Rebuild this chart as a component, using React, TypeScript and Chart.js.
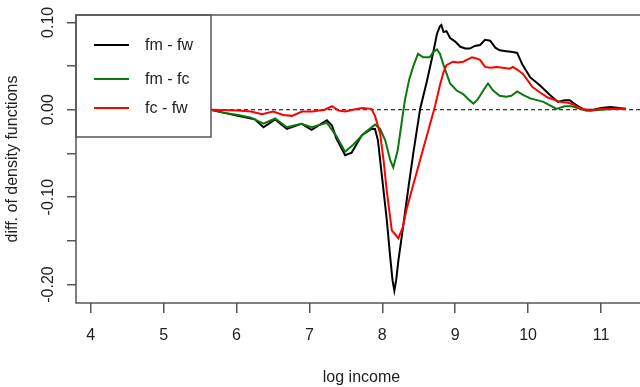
import React, { useEffect, useRef } from "react";
import { Chart, registerables } from "chart.js";

Chart.register(...registerables);

const xTicks = [4, 5, 6, 7, 8, 9, 10, 11];
const yTicks = [-0.2, -0.15, -0.1, -0.05, 0, 0.05, 0.1];
const yTickLabelValues = [-0.2, -0.1, 0, 0.1];
const yTickLabelTexts = ["-0.20", "-0.10", "0.00", "0.10"];

const seriesNames = ["fm - fw", "fm - fc", "fc - fw"];
const seriesColors = ["#000000", "#0b780b", "#ff0000"];

const xFmFw = [4.10, 5.00, 5.65, 5.80, 6.02, 6.25, 6.37, 6.53, 6.69, 6.89, 7.03, 7.24, 7.31, 7.37, 7.49, 7.58, 7.72, 7.85, 7.90, 7.94, 8.00, 8.06, 8.11, 8.14, 8.165, 8.19, 8.22, 8.29, 8.36, 8.43, 8.52, 8.61, 8.70, 8.75, 8.79, 8.81, 8.84, 8.88, 8.93, 9.00, 9.07, 9.14, 9.20, 9.27, 9.34, 9.41, 9.48, 9.55, 9.61, 9.70, 9.79, 9.85, 9.92, 10.03, 10.16, 10.30, 10.41, 10.50, 10.57, 10.65, 10.77, 10.90, 11.00, 11.13, 11.25, 11.34];
const yFmFw = [0, 0, 0, -0.003, -0.007, -0.011, -0.020, -0.011, -0.022, -0.016, -0.023, -0.012, -0.018, -0.033, -0.052, -0.049, -0.029, -0.022, -0.022, -0.035, -0.080, -0.125, -0.170, -0.195, -0.207, -0.195, -0.173, -0.131, -0.088, -0.047, 0.0015, 0.032, 0.066, 0.087, 0.0955, 0.097, 0.089, 0.090, 0.082, 0.078, 0.072, 0.070, 0.070, 0.073, 0.074, 0.080, 0.079, 0.071, 0.068, 0.067, 0.066, 0.065, 0.052, 0.037, 0.028, 0.017, 0.009, 0.011, 0.011, 0.006, 0.000, 0.000, 0.002, 0.003, 0.002, 0.001];

const xFmFc = [4.10, 5.00, 5.65, 5.80, 6.02, 6.20, 6.37, 6.53, 6.69, 6.89, 7.03, 7.24, 7.37, 7.49, 7.60, 7.75, 7.90, 7.97, 8.04, 8.11, 8.15, 8.21, 8.27, 8.31, 8.37, 8.43, 8.49, 8.56, 8.65, 8.70, 8.75, 8.79, 8.84, 8.93, 9.02, 9.11, 9.18, 9.25, 9.30, 9.34, 9.40, 9.45, 9.52, 9.61, 9.70, 9.77, 9.85, 9.93, 10.03, 10.21, 10.39, 10.50, 10.60, 10.80, 11.00, 11.20, 11.34];
const yFmFc = [0, 0, 0, -0.003, -0.006, -0.009, -0.016, -0.010, -0.020, -0.016, -0.020, -0.015, -0.030, -0.048, -0.040, -0.027, -0.017, -0.022, -0.035, -0.058, -0.066, -0.047, -0.012, 0.011, 0.035, 0.051, 0.064, 0.060, 0.060, 0.066, 0.069, 0.064, 0.051, 0.030, 0.022, 0.018, 0.012, 0.007, 0.011, 0.016, 0.024, 0.030, 0.022, 0.016, 0.015, 0.016, 0.021, 0.017, 0.013, 0.009, 0.001, 0.004, 0.004, -0.001, 0.000, 0.001, 0.001];

const xFcFw = [4.10, 5.00, 5.65, 6.02, 6.20, 6.35, 6.50, 6.64, 6.76, 6.90, 7.04, 7.21, 7.31, 7.40, 7.49, 7.60, 7.72, 7.85, 7.90, 7.97, 8.02, 8.06, 8.13, 8.22, 8.28, 8.33, 8.41, 8.49, 8.56, 8.63, 8.72, 8.79, 8.84, 8.88, 8.97, 9.04, 9.11, 9.18, 9.23, 9.28, 9.34, 9.41, 9.48, 9.57, 9.65, 9.75, 9.79, 9.85, 9.93, 10.06, 10.16, 10.27, 10.44, 10.55, 10.62, 10.70, 10.85, 11.00, 11.20, 11.34];
const yFcFw = [0, 0, 0, -0.001, -0.002, -0.005, -0.002, -0.006, -0.007, -0.002, -0.002, 0.000, 0.004, -0.001, -0.002, 0.000, 0.002, 0.001, -0.007, -0.027, -0.060, -0.092, -0.138, -0.147, -0.135, -0.115, -0.090, -0.066, -0.045, -0.024, 0.003, 0.028, 0.043, 0.051, 0.055, 0.054, 0.055, 0.058, 0.060, 0.059, 0.057, 0.049, 0.048, 0.049, 0.048, 0.047, 0.049, 0.046, 0.041, 0.026, 0.020, 0.014, 0.009, 0.008, 0.006, 0.002, -0.001, 0.001, 0.001, 0.001];

const seriesX = [xFmFw, xFmFc, xFcFw];
const seriesY = [yFmFw, yFmFc, yFcFw];

const FONT = "'Liberation Sans', Arial, sans-serif";
const AXIS_COLOR = "#555555";
const TEXT_COLOR = "#222222";

export default function App() {
  const canvasRef = useRef<HTMLCanvasElement | null>(null);

  useEffect(() => {
    const canvas = canvasRef.current;
    if (!canvas) return;

    const overlay = {
      id: "rOverlay",
      beforeDatasetsDraw(chart: any) {
        const { ctx, chartArea } = chart;
        const y0 = chart.scales.y.getPixelForValue(0);
        ctx.save();
        ctx.strokeStyle = "#000";
        ctx.lineWidth = 1;
        ctx.setLineDash([4, 3]);
        ctx.beginPath();
        ctx.moveTo(chartArea.left, y0);
        ctx.lineTo(chartArea.right, y0);
        ctx.stroke();
        ctx.restore();
      },
      afterDatasetsDraw(chart: any) {
        const { ctx, chartArea } = chart;
        const ys = chart.scales.y;
        ctx.save();
        const lx = chartArea.left;
        const ly = chartArea.top;
        const lw = 135;
        const lh = 122;
        ctx.fillStyle = "#fff";
        ctx.fillRect(lx, ly, lw, lh);
        ctx.strokeStyle = AXIS_COLOR;
        ctx.lineWidth = 1.5;
        ctx.strokeRect(lx, ly, lw, lh);
        const rowY = [30, 64, 93];
        ctx.font = `16px ${FONT}`;
        ctx.textBaseline = "middle";
        ctx.textAlign = "left";
        seriesNames.forEach((name, i) => {
          const yy = ly + rowY[i];
          ctx.strokeStyle = seriesColors[i];
          ctx.lineWidth = 2;
          ctx.beginPath();
          ctx.moveTo(lx + 18, yy);
          ctx.lineTo(lx + 53, yy);
          ctx.stroke();
          ctx.fillStyle = TEXT_COLOR;
          ctx.fillText(name, lx + 69, yy + 1);
        });
        ctx.strokeStyle = AXIS_COLOR;
        ctx.lineWidth = 1.5;
        ctx.strokeRect(chartArea.left, chartArea.top, chartArea.right - chartArea.left, chartArea.bottom - chartArea.top);
        ctx.fillStyle = TEXT_COLOR;
        ctx.font = `16px ${FONT}`;
        ctx.textAlign = "center";
        ctx.textBaseline = "middle";
        yTickLabelValues.forEach((v, i) => {
          const py = ys.getPixelForValue(v);
          ctx.save();
          ctx.translate(49, py);
          ctx.rotate(-Math.PI / 2);
          ctx.fillText(yTickLabelTexts[i], 0, 0);
          ctx.restore();
        });
        ctx.restore();
      },
    };

    const chart = new Chart(canvas, {
      type: "line",
      data: {
        datasets: seriesNames.map((name, i) => ({
          label: name,
          data: seriesX[i].map((x, j) => ({ x, y: seriesY[i][j] })),
          borderColor: seriesColors[i],
          borderWidth: 2,
          pointRadius: 0,
          tension: 0,
          fill: false,
          order: 3 - i,
        })),
      },
      options: {
        animation: false,
        responsive: false,
        maintainAspectRatio: false,
        events: [],
        layout: { padding: { top: 15, right: 13, left: 0, bottom: 0 } },
        plugins: { legend: { display: false }, tooltip: { enabled: false } },
        scales: {
          x: {
            type: "linear",
            min: 3.798,
            max: 11.631,
            afterBuildTicks: (s: any) => {
              s.ticks = xTicks.map((v) => ({ value: v }));
            },
            afterFit: (s: any) => {
              s.height = 84;
            },
            border: { display: false },
            grid: { drawOnChartArea: false, drawTicks: true, tickLength: 10, color: AXIS_COLOR, lineWidth: 1.5 },
            ticks: {
              autoSkip: false,
              maxRotation: 0,
              padding: 13,
              color: TEXT_COLOR,
              font: { family: FONT, size: 16 },
              callback: (v: any) => String(v),
            },
            title: {
              display: true,
              text: "log income",
              color: TEXT_COLOR,
              font: { family: FONT, size: 16 },
              padding: { top: 0, bottom: 0 },
            },
          },
          y: {
            type: "linear",
            min: -0.2211,
            max: 0.1084,
            afterBuildTicks: (s: any) => {
              s.ticks = yTicks.map((v) => ({ value: v }));
            },
            afterFit: (s: any) => {
              s.width = 76;
            },
            border: { display: false },
            grid: { drawOnChartArea: false, drawTicks: true, tickLength: 9, color: AXIS_COLOR, lineWidth: 1.5 },
            ticks: {
              autoSkip: false,
              color: TEXT_COLOR,
              font: { family: FONT, size: 16 },
              callback: () => "",
            },
            title: {
              display: true,
              text: "diff. of density functions",
              color: TEXT_COLOR,
              font: { family: FONT, size: 16 },
              padding: { top: 3, bottom: 3 },
            },
          },
        },
      },
      plugins: [overlay],
    } as any);

    return () => chart.destroy();
  }, []);

  return (
    <div style={{ position: "fixed", left: 0, top: 0, width: 660, height: 387, background: "#fff" }}>
      <canvas ref={canvasRef} width={660} height={387} style={{ width: 660, height: 387, display: "block" }} />
    </div>
  );
}
